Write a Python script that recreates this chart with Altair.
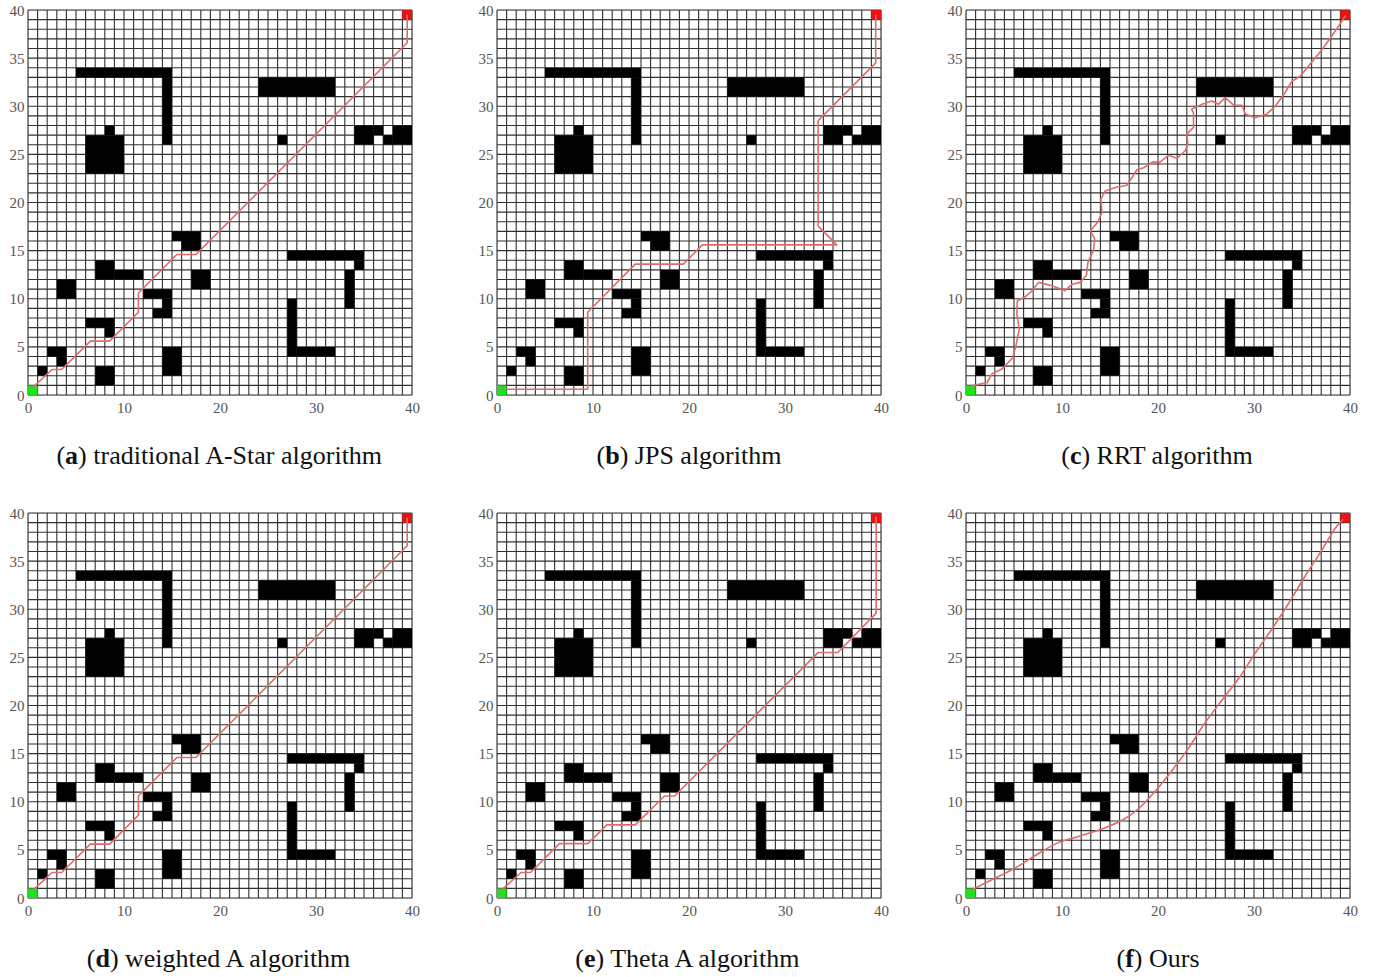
import altair as alt
import pandas as pd

# ---------------- data ----------------
X_TICKS = [0, 10, 20, 30, 40]
Y_TICKS = [0, 5, 10, 15, 20, 25, 30, 35, 40]
GRID = list(range(41))

# obstacles as grid-cell rectangles: x0, x1, y0, y1
OBST_X0 = [5, 14, 6, 8, 24, 26, 34, 36, 37, 38, 15, 16, 27, 34, 33, 27, 28, 7, 9, 3, 17, 12, 14, 13, 6, 8, 2, 3, 1, 7, 14]
OBST_X1 = [15, 15, 10, 9, 32, 27, 36, 37, 38, 40, 18, 18, 35, 35, 34, 28, 32, 9, 12, 5, 19, 15, 15, 15, 9, 9, 4, 4, 2, 9, 16]
OBST_Y0 = [33, 26, 23, 27, 31, 26, 26, 27, 26, 26, 16, 15, 14, 13, 9, 4, 4, 12, 12, 10, 11, 10, 9, 8, 7, 6, 4, 3, 2, 1, 2]
OBST_Y1 = [34, 33, 27, 28, 33, 27, 28, 28, 27, 28, 17, 16, 15, 14, 13, 10, 5, 14, 13, 12, 13, 11, 10, 9, 8, 7, 5, 4, 3, 3, 5]

START = (0, 1, 0, 1)
GOAL = (39, 40, 39, 40)

# (a) traditional A-Star, also (d) weighted A
PATH_A_X = [0.5, 2.5, 3.5, 6.5, 8.5, 11.5, 11.5, 15.5, 17.5, 39.5, 39.5]
PATH_A_Y = [0.8, 2.65, 2.65, 5.6, 5.6, 8.6, 10.6, 14.6, 14.6, 36.6, 39.5]
# (b) JPS
PATH_B_X = [0.5, 9.45, 9.45, 14.4, 19.4, 21.4, 35.4, 33.45, 33.45, 39.45, 39.45]
PATH_B_Y = [0.6, 0.6, 8.6, 13.6, 13.6, 15.6, 15.6, 17.55, 28.5, 34.5, 39.5]
# (c) RRT
PATH_C_X = [0.6, 2.2, 2.7, 3.75, 4.85, 5.2, 5.55, 5.3, 5.35, 6.1, 6.9, 7.55, 8.95, 10.3, 11.05, 11.9,
            12.55, 12.7, 13.3, 13.4, 12.95, 13.75, 14.15, 14.05, 14.5, 15.55, 16.75, 17.3, 17.8, 18.5,
            19.4, 20.2, 21.1, 22.0, 22.85, 23.1, 23.0, 23.7, 23.7, 23.5, 24.6, 25.6, 26.3, 27.0, 27.9,
            28.75, 29.1, 30.1, 31.35, 32.2, 33.1, 33.95, 34.8, 35.7, 37.1, 38.1, 39.2, 39.55]
PATH_C_Y = [0.95, 1.3, 2.2, 2.7, 3.85, 5.1, 6.85, 8.4, 9.8, 10.15, 10.85, 11.7, 11.35, 10.85, 11.5, 11.7,
            12.45, 13.75, 15.1, 16.25, 17.05, 18.0, 18.95, 20.35, 21.2, 21.55, 21.8, 22.6, 23.4, 23.6,
            24.2, 24.2, 24.9, 24.6, 25.4, 26.2, 27.1, 27.8, 29.3, 29.7, 30.2, 30.55, 30.2, 30.9, 30.1,
            30.1, 29.2, 28.8, 29.2, 30.0, 31.2, 32.6, 33.1, 34.2, 35.9, 37.3, 38.9, 39.45]
# (e) Theta A
PATH_E_X = [0.5, 2.5, 3.5, 6.5, 9.45, 11.45, 14.4, 17.45, 18.5, 33.45, 35.5, 39.5, 39.5]
PATH_E_Y = [0.85, 2.65, 2.65, 5.65, 5.65, 7.6, 7.6, 10.6, 10.6, 25.5, 25.5, 29.6, 39.6]
# (f) Ours
PATH_F_X = [0.6, 2.7, 5.1, 7.6, 9.5, 11.7, 14.5, 16.4, 18.0, 19.55, 21.5, 23.2, 24.9, 26.7, 28.4,
            30.1, 31.9, 33.6, 35.3, 37.1, 38.6, 39.3]
PATH_F_Y = [0.85, 1.9, 3.1, 4.65, 5.7, 6.4, 7.3, 8.15, 9.3, 10.9, 13.3, 15.6, 18.2, 20.6, 22.8,
            25.4, 28.0, 30.6, 33.4, 36.2, 38.6, 39.35]

CAP_LETTERS = ["a", "b", "c", "d", "e", "f"]
CAP_TEXTS = ["traditional A-Star algorithm", "JPS algorithm", "RRT algorithm",
             "weighted A algorithm", "Theta A algorithm", "Ours"]

# ---------------- layout / style ----------------
W, H = 384, 385
CAP_FONT = "Liberation Serif"
CAP_SIZE = 26
CAP_DY = 61  # caption centre below plot bottom
GRID_COLOR = "#303030"
PATH_COLOR = "#e06a6a"
LABEL_FONT = "Liberation Serif"
LABEL_SIZE = 15

# Times-compatible glyph widths (1/1000 em) to centre the mixed-weight caption
_TW = {' ': 250, '(': 333, ')': 333, '-': 333,
       'a': 444, 'b': 500, 'c': 444, 'd': 500, 'e': 444, 'f': 333, 'g': 500, 'h': 500, 'i': 278,
       'j': 278, 'k': 500, 'l': 278, 'm': 778, 'n': 500, 'o': 500, 'p': 500, 'q': 500, 'r': 333,
       's': 389, 't': 278, 'u': 500, 'v': 500, 'w': 722, 'x': 500, 'y': 500, 'z': 444,
       'A': 722, 'J': 389, 'O': 722, 'P': 556, 'R': 667, 'S': 556, 'T': 611}
_TWB = {'a': 500, 'b': 556, 'c': 444, 'd': 556, 'e': 444, 'f': 333}


def tw(s, size, bold=False):
    tab = _TWB if bold else _TW
    return sum(tab.get(ch, _TW.get(ch, 500)) for ch in s) * size / 1000.0


obst_df = pd.DataFrame({"x0": OBST_X0, "x1": OBST_X1, "y0": OBST_Y0, "y1": OBST_Y1})
marks_df = pd.DataFrame({"x0": [START[0], GOAL[0]], "x1": [START[1], GOAL[1]],
                         "y0": [START[2], GOAL[2]], "y1": [START[3], GOAL[3]],
                         "kind": ["start", "goal"]})
grid_df = pd.DataFrame({"g": GRID})

xs = alt.Scale(domain=[0, 40], nice=False, zero=False)
ys = alt.Scale(domain=[0, 40], nice=False, zero=False)
x_axis = alt.Axis(values=X_TICKS, title=None, grid=False, ticks=False, domain=False,
                  labelPadding=5, labelFlush=False, labelOverlap=False,
                  labelFont=LABEL_FONT, labelFontSize=LABEL_SIZE, labelColor="#555")
y_axis = alt.Axis(values=Y_TICKS, title=None, grid=False, ticks=False, domain=False,
                  labelPadding=4, labelFlush=False, labelOverlap=False,
                  labelFont=LABEL_FONT, labelFontSize=LABEL_SIZE, labelColor="#555")


def X(field):
    return alt.X(field, scale=xs, axis=x_axis)


def Y(field):
    return alt.Y(field, scale=ys, axis=y_axis)


def panel(px, py, letter, text, interp="linear"):
    vgrid = alt.Chart(grid_df).mark_rule(color=GRID_COLOR, strokeWidth=1.1).encode(
        x=X("g:Q"), y=alt.value(0), y2=alt.value(H))
    hgrid = alt.Chart(grid_df).mark_rule(color=GRID_COLOR, strokeWidth=1.1).encode(
        y=Y("g:Q"), x=alt.value(0), x2=alt.value(W))
    obst = alt.Chart(obst_df).mark_rect(color="black").encode(
        x=X("x0:Q"), x2="x1:Q", y=Y("y0:Q"), y2="y1:Q")
    se = alt.Chart(marks_df).mark_rect().encode(
        x=X("x0:Q"), x2="x1:Q", y=Y("y0:Q"), y2="y1:Q",
        color=alt.Color("kind:N", scale=alt.Scale(domain=["start", "goal"],
                                                  range=["#1fe01f", "#ee1111"]), legend=None))
    pdf = pd.DataFrame({"x": px, "y": py, "i": list(range(len(px)))})
    path = alt.Chart(pdf).mark_line(color=PATH_COLOR, strokeWidth=1.6, interpolate=interp,
                                    strokeJoin="round").encode(
        x=X("x:Q"), y=Y("y:Q"), order="i:Q")

    rest = ") " + text
    total = tw("(", CAP_SIZE) + tw(letter, CAP_SIZE, True) + tw(rest, CAP_SIZE)
    x0 = W / 2 - total / 2
    cap_df = pd.DataFrame({"t": [0]})
    cy = H + CAP_DY
    common = dict(font=CAP_FONT, fontSize=CAP_SIZE, align="left", baseline="middle", color="#111")
    c1 = alt.Chart(cap_df).mark_text(text="(", **common).encode(x=alt.value(x0), y=alt.value(cy))
    c2 = alt.Chart(cap_df).mark_text(text=letter, fontWeight="bold", **common).encode(
        x=alt.value(x0 + tw("(", CAP_SIZE)), y=alt.value(cy))
    c3 = alt.Chart(cap_df).mark_text(text=rest, **common).encode(
        x=alt.value(x0 + tw("(", CAP_SIZE) + tw(letter, CAP_SIZE, True)), y=alt.value(cy))
    return alt.layer(vgrid, hgrid, obst, se, path, c1, c2, c3).properties(width=W, height=H)


pa = panel(PATH_A_X, PATH_A_Y, CAP_LETTERS[0], CAP_TEXTS[0])
pb = panel(PATH_B_X, PATH_B_Y, CAP_LETTERS[1], CAP_TEXTS[1])
pc = panel(PATH_C_X, PATH_C_Y, CAP_LETTERS[2], CAP_TEXTS[2])
pd_ = panel(PATH_A_X, PATH_A_Y, CAP_LETTERS[3], CAP_TEXTS[3])
pe = panel(PATH_E_X, PATH_E_Y, CAP_LETTERS[4], CAP_TEXTS[4])
pf = panel(PATH_F_X, PATH_F_Y, CAP_LETTERS[5], CAP_TEXTS[5], interp="monotone")

row1 = alt.hconcat(pa, pb, pc, spacing=57)
row2 = alt.hconcat(pd_, pe, pf, spacing=57)

chart = alt.vconcat(row1, row2, spacing=35).properties(
    padding={"left": 8, "top": 2, "right": 5, "bottom": 5}
).configure_view(stroke=None).configure(background="white")

chart.save("out.html", embed_options={"renderer": "svg", "actions": False})
